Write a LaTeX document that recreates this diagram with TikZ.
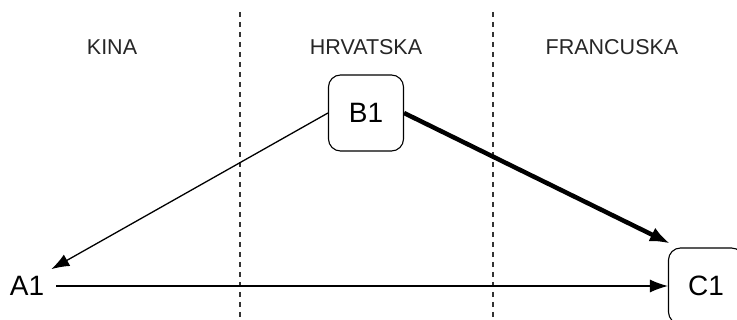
\documentclass[tikz,border=0pt]{standalone}
\usepackage{fontspec}
\setmainfont{Liberation Sans}
\usepackage{tikz}
\usetikzlibrary{arrows.meta,positioning}

\tikzset{
  country/.style={anchor=base, font=\fontsize{21.5}{24}\selectfont, text=black!85},
  city/.style={draw, rounded corners=12pt, line width=1.1pt, minimum width=75pt,
    minimum height=76pt, font=\fontsize{28}{32}\selectfont},
  border/.style={dashed, dash pattern=on 5pt off 5pt, line width=1.2pt, black!80},
  flow/.style={-{Latex[length=18pt,width=13pt]}, line width=1.3pt},
  mainflow/.style={-{Latex[length=20pt,width=15pt]}, line width=4.5pt}
}

\begin{document}
\begin{tikzpicture}[x=1pt,y=-1pt]

\useasboundingbox (0,0) rectangle (737,320);

\draw[border] (240,12) -- (240,320);
\draw[border] (493,12) -- (493,320);

\node[country] (kina) at (112,55) {KINA};
\node[country] (hrvatska) at (366,55) {HRVATSKA};
\node[country] (francuska) at (612,55) {FRANCUSKA};

\node[city] (b1) at (366,113) {B1};
\node[city] (c1) at (706,286) {C1};
\node[inner sep=7pt, font=\fontsize{28}{32}\selectfont] (a1) at (27,286) {A1};

\draw[flow] (b1.west) -- (a1.north east);
\draw[flow, shorten <=5pt] (a1.east) -- (c1.west);
\draw[mainflow] (b1.east) -- ([shift={(2pt,4pt)}]c1.north west);

\end{tikzpicture}
\end{document}
